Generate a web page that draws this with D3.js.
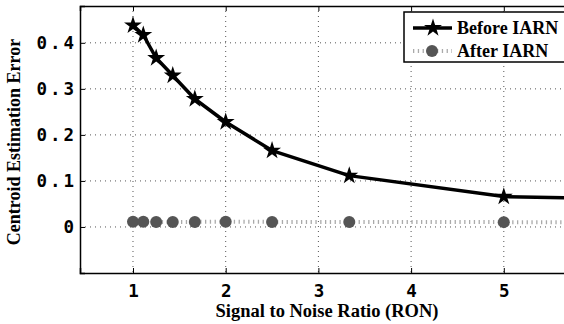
<!DOCTYPE html>
<html><head><meta charset="utf-8">
<script src="https://cdn.jsdelivr.net/npm/d3@7/dist/d3.min.js"></script>
<style>
html,body{margin:0;padding:0;background:#fff;}
svg{display:block;}
</style></head>
<body><div id="chart"></div>
<script>
const snr = [1, 1.111, 1.25, 1.429, 1.667, 2, 2.5, 3.333, 5, 10];
const beforeIARN = [0.438, 0.417, 0.367, 0.329, 0.278, 0.228, 0.166, 0.1115, 0.066, 0.045];
const afterIARN = [0.0115, 0.0115, 0.011, 0.011, 0.011, 0.0115, 0.011, 0.011, 0.0105, 0.0105];
const xTicks = [1, 2, 3, 4, 5];
const yTicks = [0, 0.1, 0.2, 0.3, 0.4];
const seriesNames = ["Before IARN", "After IARN"];

const W = 564, H = 324;
const M = {left: 80, top: 6, right: 566, bottom: 273};
const svg = d3.select("#chart").append("svg").attr("width", W).attr("height", H);

const x = d3.scaleLinear().domain([0.4283, 5.671]).range([M.left, M.right]);
const y = d3.scaleLinear().domain([-0.1, 0.48]).range([M.bottom, M.top]);

svg.append("clipPath").attr("id", "clip").append("rect")
  .attr("x", M.left).attr("y", M.top).attr("width", M.right - M.left).attr("height", M.bottom - M.top);

// grid
const grid = svg.append("g");
grid.selectAll(".vg").data(xTicks).join("line")
  .attr("x1", d => x(d)).attr("x2", d => x(d)).attr("y1", M.top).attr("y2", M.bottom)
  .attr("stroke", "#555").attr("stroke-width", 1).attr("stroke-dasharray", "1,4");
grid.selectAll(".hg").data(yTicks).join("line")
  .attr("y1", d => y(d)).attr("y2", d => y(d)).attr("x1", M.left).attr("x2", M.right)
  .attr("stroke", "#555").attr("stroke-width", 1).attr("stroke-dasharray", "1,4");

// axes
const tickFont = "'DejaVu Sans Mono', monospace";
const ls = 3;
const xAxis = d3.axisBottom(x).tickValues(xTicks).tickSize(-5).tickPadding(12).tickFormat(d3.format("d"));
const gx = svg.append("g").attr("transform", `translate(0,${M.bottom})`).call(xAxis);
const yAxis = d3.axisLeft(y).tickValues(yTicks).tickSize(-5).tickPadding(6)
  .tickFormat(d => d === 0 ? "0" : d3.format(".1f")(d));
const gy = svg.append("g").attr("transform", `translate(${M.left},0)`).call(yAxis);
const xTop = d3.axisTop(x).tickValues(xTicks).tickSize(-5).tickFormat("");
const gt = svg.append("g").attr("transform", `translate(0,${M.top})`).call(xTop);
[gx, gy, gt].forEach(g => {
  g.select(".domain").attr("stroke", "#000").attr("stroke-width", 1.5);
  g.selectAll(".tick line").attr("stroke", "#000").attr("stroke-width", 1);
  g.selectAll("text").attr("font-family", tickFont).attr("font-weight", "bold")
    .attr("font-size", 17.5).attr("fill", "#000").style("letter-spacing", ls + "px");
});
gx.selectAll(".tick text").attr("dx", ls / 2);
gy.selectAll(".tick text").attr("dx", ls);

// titles
const serif = "'Liberation Serif', 'Times New Roman', serif";
svg.append("text").attr("x", 327).attr("y", 317).attr("text-anchor", "middle")
  .attr("font-family", serif).attr("font-weight", "bold").attr("font-size", 18.5)
  .text("Signal to Noise Ratio (RON)");
svg.append("text").attr("transform", "translate(20,142) rotate(-90)").attr("text-anchor", "middle")
  .attr("font-family", serif).attr("font-weight", "bold").attr("font-size", 18)
  .text("Centroid Estimation Error");

// series
const plot = svg.append("g").attr("clip-path", "url(#clip)");
const line = d3.line().x(d => x(d[0])).y(d => y(d[1]));
const afterData = snr.map((s, i) => [s, afterIARN[i]]);
const beforeData = snr.map((s, i) => [s, beforeIARN[i]]);

plot.append("path").datum(afterData).attr("d", line).attr("fill", "none")
  .attr("stroke", "#aaa").attr("stroke-width", 4).attr("stroke-dasharray", "1.3,3.5");
plot.selectAll(".ac").data(afterData).join("circle")
  .attr("cx", d => x(d[0])).attr("cy", d => y(d[1])).attr("r", 6).attr("fill", "#555");

plot.append("path").datum(beforeData).attr("d", line).attr("fill", "none")
  .attr("stroke", "#000").attr("stroke-width", 3.5).attr("stroke-linejoin", "round");
const star = d3.symbol().type(d3.symbolStar).size(100);
plot.selectAll(".bs").data(beforeData).join("path")
  .attr("transform", d => `translate(${x(d[0])},${y(d[1])})`).attr("d", star).attr("fill", "#000");

// legend
const lg = svg.append("g");
lg.append("rect").attr("x", 404).attr("y", 12).attr("width", 180).attr("height", 50)
  .attr("fill", "#fff").attr("stroke", "#000").attr("stroke-width", 1.5);
const ly = [28, 51];
lg.append("line").attr("x1", 413).attr("x2", 452).attr("y1", ly[0]).attr("y2", ly[0])
  .attr("stroke", "#000").attr("stroke-width", 3.5);
lg.append("path").attr("transform", `translate(433,${ly[0]})`).attr("d", star).attr("fill", "#000");
lg.append("line").attr("x1", 413).attr("x2", 452).attr("y1", ly[1]).attr("y2", ly[1])
  .attr("stroke", "#aaa").attr("stroke-width", 4).attr("stroke-dasharray", "1.3,3.5");
lg.append("circle").attr("cx", 432).attr("cy", ly[1]).attr("r", 6).attr("fill", "#555");
lg.selectAll(".lt").data(seriesNames).join("text")
  .attr("x", 457).attr("y", (d, i) => ly[i]).attr("dy", "0.35em")
  .attr("font-family", serif).attr("font-weight", "bold").attr("font-size", 18)
  .text(d => d);
</script></body></html>
